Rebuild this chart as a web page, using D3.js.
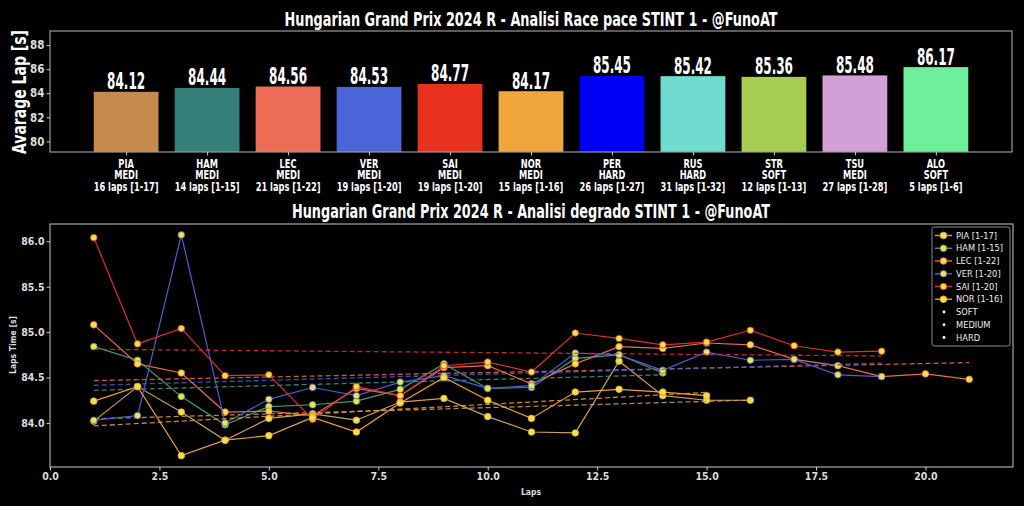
<!DOCTYPE html>
<html>
<head>
<meta charset="utf-8">
<script src="https://cdn.jsdelivr.net/npm/d3@7/dist/d3.min.js"></script>
<style>
  html, body { margin: 0; padding: 0; background: #000; }
  svg { display: block; }
</style>
</head>
<body>
<svg id="chart" width="1024" height="506"></svg>
<script>
// ---------------- DATA ----------------
const drivers   = ["PIA","HAM","LEC","VER","SAI","NOR","PER","RUS","STR","TSU","ALO"];
const compounds = ["MEDI","MEDI","MEDI","MEDI","MEDI","MEDI","HARD","HARD","SOFT","MEDI","SOFT"];
const lapCounts = [16,14,21,19,19,15,26,31,12,27,5];
const lapRanges = ["[1-17]","[1-15]","[1-22]","[1-20]","[1-20]","[1-16]","[1-27]","[1-32]","[1-13]","[1-28]","[1-6]"];
const avgLap    = [84.12,84.44,84.56,84.53,84.77,84.17,85.45,85.42,85.36,85.48,86.17];
const barColors = ["#c68a4c","#358078","#ec6c55","#4c65d8","#e8321f","#f0a63c","#0000f5","#6fdccf","#a6cc52","#d2a0d6","#6ef09a"];
const topTicks  = [80,82,84,86,88];

// stint 1 lap times (lap index 1..n)
const piaLaps = [84.02,84.40,84.12,83.81,84.05,84.10,84.03,84.23,84.27,84.07,83.90,83.89,84.68,84.30,84.25,84.25];
const hamLaps = [84.84,84.69,84.29,83.98,84.18,84.20,84.24,84.37,84.65,84.38,84.39,84.71,84.75,84.55];
const lecLaps = [85.08,84.65,84.55,84.12,84.13,84.08,84.38,84.30,84.61,84.63,84.43,84.65,84.84,84.82,84.88,84.86,84.70,84.63,84.51,84.54,84.48];
const verLaps = [84.03,84.08,86.07,84.00,84.26,84.39,84.30,84.45,84.52,84.38,84.41,84.77,84.75,84.58,84.78,84.69,84.70,84.53,84.51];
const saiLaps = [86.04,84.87,85.04,84.52,84.53,84.04,84.40,84.30,84.63,84.67,84.56,84.99,84.93,84.86,84.89,85.02,84.85,84.78,84.79];
const norLaps = [84.24,84.40,83.64,83.81,83.86,84.06,83.90,84.22,84.50,84.25,84.05,84.34,84.37,84.34,84.30];

const seriesNames  = ["PIA [1-17]","HAM [1-15]","LEC [1-22]","VER [1-20]","SAI [1-20]","NOR [1-16]"];
const seriesValues = [piaLaps, hamLaps, lecLaps, verLaps, saiLaps, norLaps];
const seriesColors = ["#d0a058","#3f9c78","#ee6a4a","#4a5fd0","#e0302a","#f0a030"];
const compoundNames = ["SOFT","MEDIUM","HARD"];
const bottomXTicks = [0,2.5,5,7.5,10,12.5,15,17.5,20];
const bottomYTicks = [84.0,84.5,85.0,85.5,86.0];

// ---------------- DRAW ----------------
const FONT = "'Liberation Sans Narrow','DejaVu Sans Condensed','Roboto Condensed',sans-serif";
const svg = d3.select("#chart");
svg.append("rect").attr("width",1024).attr("height",506).attr("fill","#000");

// ===== TOP CHART =====
const T = {l:50, r:1012, t:31, b:152};
const xTop = d3.scaleLinear().domain([-0.94, 10.94]).range([T.l, T.r]);
const yTop = d3.scaleLinear().domain([79.12, 89.17]).range([T.b, T.t]);
const barW = xTop(0.4) - xTop(-0.4);

svg.append("text").attr("x",531).attr("y",26).attr("text-anchor","middle")
  .attr("fill","#fff").attr("font-family",FONT).attr("font-weight","bold").attr("font-size",20)
  .attr("textLength",493).attr("lengthAdjust","spacingAndGlyphs")
  .text("Hungarian Grand Prix 2024 R - Analisi Race pace STINT 1 - @FunoAT");

const gTop = svg.append("g");
gTop.selectAll("rect.bar").data(avgLap).join("rect").attr("class","bar")
  .attr("x",(d,i)=>xTop(i)-barW/2).attr("width",barW)
  .attr("y",d=>yTop(d)).attr("height",d=>T.b-yTop(d))
  .attr("fill",(d,i)=>barColors[i]);

gTop.selectAll("text.val").data(avgLap).join("text").attr("class","val")
  .attr("x",(d,i)=>xTop(i)).attr("y",d=>yTop(d)-2.5).attr("text-anchor","middle")
  .attr("fill","#fff").attr("font-family",FONT).attr("font-weight","bold").attr("font-size",23)
  .attr("textLength",38).attr("lengthAdjust","spacingAndGlyphs")
  .text(d=>d.toFixed(2));

// frame
svg.append("rect").attr("x",T.l).attr("y",T.t).attr("width",T.r-T.l).attr("height",T.b-T.t)
  .attr("fill","none").attr("stroke","#9a9a9a").attr("stroke-width",1.2);

// y axis
const yAxTop = d3.axisLeft(yTop).tickValues(topTicks).tickSize(3.5).tickPadding(2).tickFormat(d3.format("d"));
const gyT = svg.append("g").attr("transform",`translate(${T.l},0)`).call(yAxTop);
gyT.select(".domain").remove();
gyT.selectAll("line").attr("stroke","#ccc");
gyT.selectAll("text").attr("fill","#ddd").attr("font-family",FONT).attr("font-weight","bold").attr("font-size",11.5);

// x axis ticks + multi-line labels
const xAxTop = d3.axisBottom(xTop).tickValues(d3.range(drivers.length)).tickSize(3.5).tickFormat("");
const gxT = svg.append("g").attr("transform",`translate(0,${T.b})`).call(xAxTop);
gxT.select(".domain").remove();
gxT.selectAll("line").attr("stroke","#ccc");
const lbl = svg.append("g").selectAll("text").data(drivers).join("text")
  .attr("transform",(d,i)=>`translate(${xTop(i)},168) scale(0.8,1)`).attr("text-anchor","middle")
  .attr("fill","#fff").attr("font-family",FONT).attr("font-weight","bold").attr("font-size",11.5);
lbl.each(function(d,i){
  const t = d3.select(this);
  [d, compounds[i], `${lapCounts[i]} laps ${lapRanges[i]}`].forEach((s,k)=>{
    t.append("tspan").attr("x",0).attr("dy",k===0?0:11.5).text(s);
  });
});

svg.append("text").attr("transform","translate(26,92) rotate(-90) scale(0.82,1)").attr("text-anchor","middle")
  .attr("fill","#fff").attr("font-family",FONT).attr("font-weight","bold").attr("font-size",19)
  .text("Avarage Lap [s]");

// ===== BOTTOM CHART =====
const B = {l:50, r:1013, t:224, b:467};
const xB = d3.scaleLinear().domain([0,22]).range([B.l,B.r]);
const yB = d3.scaleLinear().domain([83.515,86.19]).range([B.b,B.t]);

svg.append("text").attr("x",531).attr("y",218).attr("text-anchor","middle")
  .attr("fill","#fff").attr("font-family",FONT).attr("font-weight","bold").attr("font-size",20)
  .attr("textLength",478).attr("lengthAdjust","spacingAndGlyphs")
  .text("Hungarian Grand Prix 2024 R - Analisi degrado STINT 1 - @FunoAT");

const gB = svg.append("g");
const line = d3.line().x((d,i)=>xB(i+1)).y(d=>yB(d));

function regress(vals){
  const xs = vals.map((d,i)=>i+1);
  const mx = d3.mean(xs), my = d3.mean(vals);
  let num=0, den=0;
  xs.forEach((x,i)=>{ num += (x-mx)*(vals[i]-my); den += (x-mx)*(x-mx); });
  const m = num/den, b = my - m*mx;
  return [[1, m*1+b],[xs.length, m*xs.length+b]];
}

seriesValues.forEach((vals,si)=>{
  const col = seriesColors[si];
  gB.append("path").datum(vals).attr("d",line).attr("fill","none")
    .attr("stroke",col).attr("stroke-width",1.2);
  gB.selectAll(null).data(vals).join("circle")
    .attr("cx",(d,i)=>xB(i+1)).attr("cy",d=>yB(d)).attr("r",3.3)
    .attr("fill","#f4e24a").attr("stroke",col).attr("stroke-width",1).attr("stroke-opacity",0.8);
  const tr = regress(vals);
  gB.append("line").attr("x1",xB(tr[0][0])).attr("y1",yB(tr[0][1]))
    .attr("x2",xB(tr[1][0])).attr("y2",yB(tr[1][1]))
    .attr("stroke",col).attr("stroke-width",1.3).attr("stroke-dasharray","5,3").attr("opacity",0.85);
});

svg.append("rect").attr("x",B.l).attr("y",B.t).attr("width",B.r-B.l).attr("height",B.b-B.t)
  .attr("fill","none").attr("stroke","#c8c8c8").attr("stroke-width",1);

const gyB = svg.append("g").attr("transform",`translate(${B.l},0)`)
  .call(d3.axisLeft(yB).tickValues(bottomYTicks).tickSize(3.5).tickPadding(2).tickFormat(d3.format(".1f")));
gyB.select(".domain").remove();
gyB.selectAll("line").attr("stroke","#ccc");
gyB.selectAll("text").attr("fill","#ddd").attr("font-family",FONT).attr("font-weight","bold").attr("font-size",10.5);

const gxB = svg.append("g").attr("transform",`translate(0,${B.b})`)
  .call(d3.axisBottom(xB).tickValues(bottomXTicks).tickSize(3.5).tickPadding(2).tickFormat(d3.format(".1f")));
gxB.select(".domain").remove();
gxB.selectAll("line").attr("stroke","#ccc");
gxB.selectAll("text").attr("fill","#ddd").attr("font-family",FONT).attr("font-weight","bold").attr("font-size",10.5);

svg.append("text").attr("x",531).attr("y",495).attr("text-anchor","middle")
  .attr("fill","#ddd").attr("font-family",FONT).attr("font-weight","bold").attr("font-size",8.5)
  .text("Laps");
svg.append("text").attr("transform","translate(16,345) rotate(-90)").attr("text-anchor","middle")
  .attr("fill","#ddd").attr("font-family",FONT).attr("font-weight","bold").attr("font-size",8.5)
  .text("Laps Time [s]");

// legend
const L = {x:932, y:227, w:78, h:119};
const gL = svg.append("g");
gL.append("rect").attr("x",L.x).attr("y",L.y).attr("width",L.w).attr("height",L.h).attr("rx",2.5)
  .attr("fill","#000").attr("fill-opacity",0.8).attr("stroke","#8a8a8a").attr("stroke-width",1);
const legItems = seriesNames.map((n,i)=>({name:n, color:seriesColors[i], kind:"line"}))
  .concat(compoundNames.map(n=>({name:n, kind:"dot"})));
legItems.forEach((it,i)=>{
  const cy = 235.5 + i*12.75;
  if(it.kind==="line"){
    gL.append("line").attr("x1",935).attr("x2",952).attr("y1",cy).attr("y2",cy)
      .attr("stroke",it.color).attr("stroke-width",1.4);
    gL.append("circle").attr("cx",943.5).attr("cy",cy).attr("r",3.3)
      .attr("fill","#f4e24a").attr("stroke",it.color).attr("stroke-width",1);
  } else {
    gL.append("circle").attr("cx",944).attr("cy",cy).attr("r",1.4).attr("fill","#fff");
  }
  gL.append("text").attr("x",956).attr("y",cy+3).attr("fill","#eee")
    .attr("font-family","'DejaVu Sans',sans-serif").attr("font-size",8.3).text(it.name);
});
</script>
</body>
</html>
